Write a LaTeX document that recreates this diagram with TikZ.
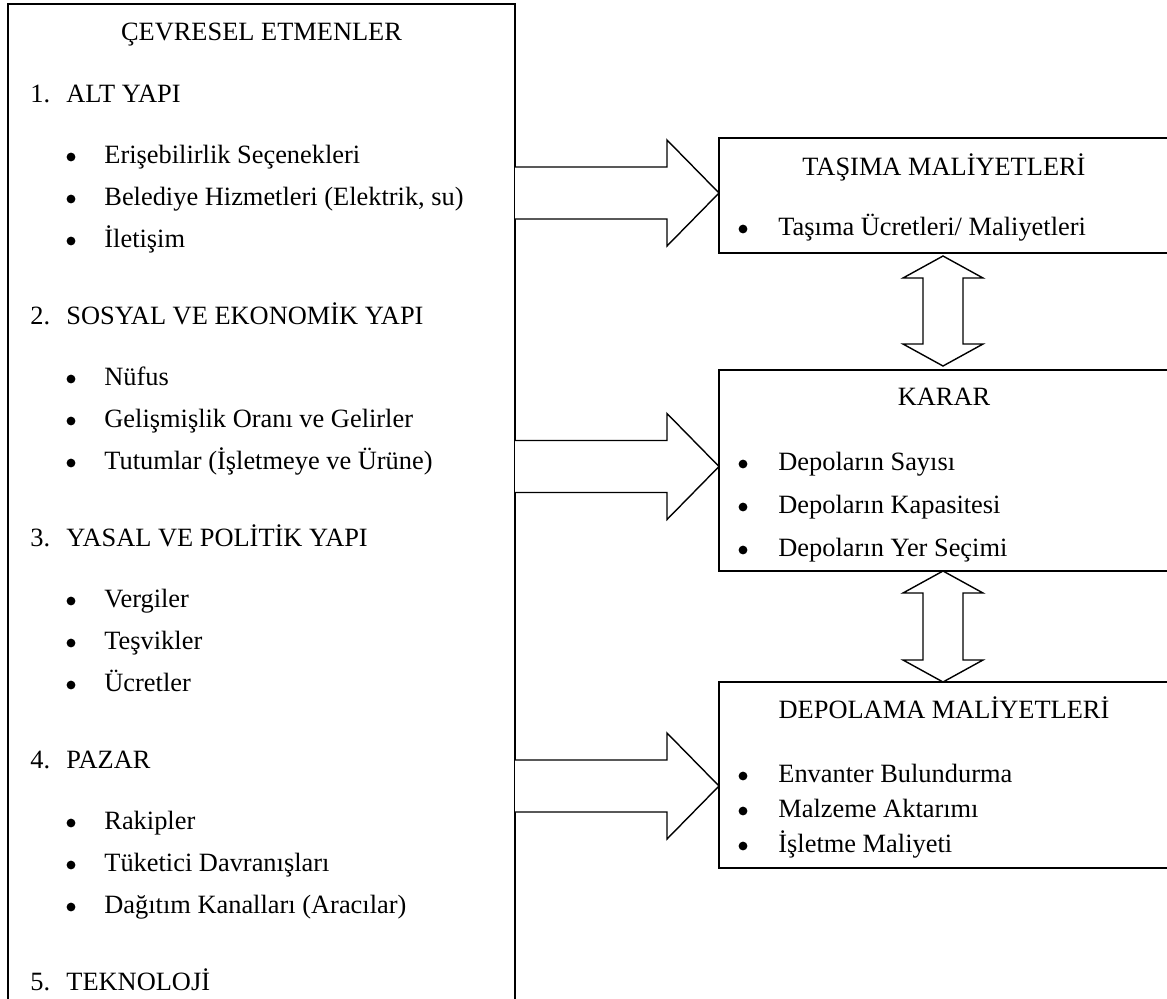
\documentclass[tikz,border=0pt]{standalone}
\usepackage{fontspec}
\setmainfont{Liberation Serif}
\begin{document}
\begin{tikzpicture}[x=0.5pt,y=-0.5pt,font=\fontsize{13.2}{16}\selectfont,
  kutu/.style={draw,line width=0.8pt},
  blokok/.style={draw,line width=0.7pt,line join=miter,fill=white},
  satir/.style={anchor=base west,inner sep=0pt},
  madde/.style={circle,fill,inner sep=0pt,minimum size=4.4pt},
  baslik/.style={anchor=base,inner sep=0pt}]

\useasboundingbox (0,0) rectangle (1167,998);

\begin{scope}
% kutularin koseleri
\coordinate (c1) at (8,4);
\coordinate (c2) at (515,1015);
\coordinate (t1) at (719,138);
\coordinate (t2) at (1170,253);
\coordinate (k1) at (719,370);
\coordinate (k2) at (1170,571);
\coordinate (d1) at (719,682);
\coordinate (d2) at (1170,868);

\draw[kutu] (c1) rectangle (c2);
\draw[kutu] (t1) rectangle (t2);
\draw[kutu] (k1) rectangle (k2);
\draw[kutu] (d1) rectangle (d2);

% sag oklar
\coordinate (o1) at (515,193);
\coordinate (o2) at (515,466.5);
\coordinate (o3) at (515,786);
\foreach \o in {o1,o2,o3}
  \draw[blokok] (\o) ++(0,-26) -- ++(152,0) -- ++(0,-27) -- ++(52,53)
    -- ++(-52,53) -- ++(0,-27) -- ++(-152,0);

% cift yonlu oklar
\foreach \a/\b in {256/366,571/682}
  \draw[blokok] (943,\a) -- ++(40,22) -- ++(-20,0) -- (963,\b-22) -- ++(20,0)
    -- (943,\b) -- ++(-40,-22) -- ++(20,0) -- (923,\a+22) -- ++(-20,0) -- cycle;

% sol kutu
\node[baslik] (cevre) at (261.5,40) {ÇEVRESEL ETMENLER};

\node[satir] (n1) at (30,102) {1.};
\node[satir] (b1) at (66,102) {ALT YAPI};
\foreach \y/\t [count=\i] in {163/Erişebilirlik Seçenekleri,
    205/{Belediye Hizmetleri (Elektrik, su)}, 247/İletişim} {
  \node[madde] (m1\i) at (71,\y-6) {};
  \node[satir] (s1\i) at (104,\y) {\t};
}

\node[satir] (n2) at (30,324) {2.};
\node[satir] (b2) at (66,324) {SOSYAL VE EKONOMİK YAPI};
\foreach \y/\t [count=\i] in {385/Nüfus, 427/Gelişmişlik Oranı ve Gelirler,
    469/Tutumlar (İşletmeye ve Ürüne)} {
  \node[madde] (m2\i) at (71,\y-6) {};
  \node[satir] (s2\i) at (104,\y) {\t};
}

\node[satir] (n3) at (30,546) {3.};
\node[satir] (b3) at (66,546) {YASAL VE POLİTİK YAPI};
\foreach \y/\t [count=\i] in {607/Vergiler, 649/Teşvikler, 691/Ücretler} {
  \node[madde] (m3\i) at (71,\y-6) {};
  \node[satir] (s3\i) at (104,\y) {\t};
}

\node[satir] (n4) at (30,768) {4.};
\node[satir] (b4) at (66,768) {PAZAR};
\foreach \y/\t [count=\i] in {829/Rakipler, 871/Tüketici Davranışları,
    913/Dağıtım Kanalları (Aracılar)} {
  \node[madde] (m4\i) at (71,\y-6) {};
  \node[satir] (s4\i) at (104,\y) {\t};
}

\node[satir] (n5) at (30,990) {5.};
\node[satir] (b5) at (66,990) {TEKNOLOJİ};

% sag kutular
\node[baslik] (tasima) at (944,175) {TAŞIMA MALİYETLERİ};
\node[madde] (mt1) at (743,229) {};
\node[satir] (st1) at (778,235) {Taşıma Ücretleri/ Maliyetleri};

\node[baslik] (karar) at (944,405) {KARAR};
\foreach \y/\t [count=\i] in {470/Depoların Sayısı, 513/Depoların Kapasitesi,
    556/Depoların Yer Seçimi} {
  \node[madde] (mk\i) at (743,\y-6) {};
  \node[satir] (sk\i) at (778,\y) {\t};
}

\node[baslik] (depo) at (944,718) {DEPOLAMA MALİYETLERİ};
\foreach \y/\t [count=\i] in {782/Envanter Bulundurma, 817/Malzeme Aktarımı,
    852/İşletme Maliyeti} {
  \node[madde] (md\i) at (743,\y-6) {};
  \node[satir] (sd\i) at (778,\y) {\t};
}
\end{scope}

\end{tikzpicture}
\end{document}
